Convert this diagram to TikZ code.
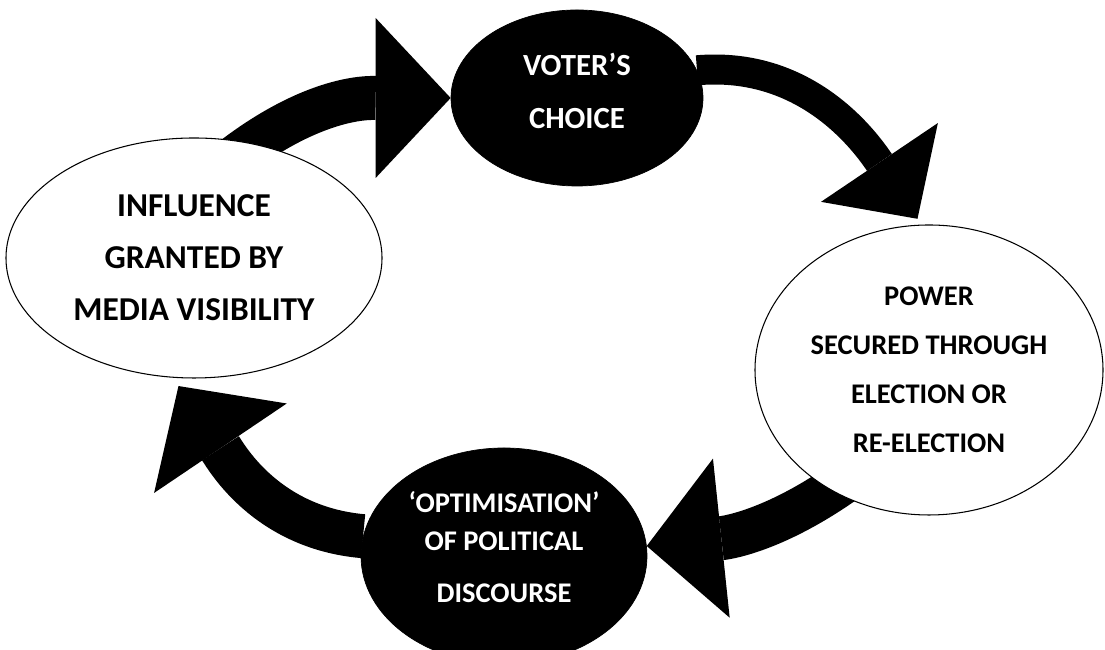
\documentclass[tikz,border=0pt]{standalone}
\usepackage{fontspec}
\setmainfont{Carlito}
\usepackage{tikz}
\usetikzlibrary{shapes.geometric, arrows.meta, backgrounds}

\begin{document}
\begin{tikzpicture}[
    blackoval/.style={draw=black, ellipse, fill=black, text=white, align=center, inner sep=0pt},
    whiteoval/.style={draw=black, ellipse, fill=white, line width=0.6pt, align=center, inner sep=0pt},
    widearrow/.style={line width=0.88cm, -{Triangle[length=1.5cm, width=3.2cm, line width=0pt]}},
    thinarrow/.style={line width=0.6cm, -{Triangle[length=1.36cm, width=2.82cm, line width=0pt]}}
]

    \useasboundingbox (0,0) rectangle (22.1,13);

    % Nodes
    \node[blackoval, minimum width=5.04cm, minimum height=3.52cm, text depth=8.5pt, font=\bfseries\fontsize{17.5}{30}\selectfont] (voter) at (11.54,11.04) {VOTER’S\\CHOICE};
    \node[whiteoval, minimum width=7.52cm, minimum height=4.8cm, font=\bfseries\fontsize{19}{29.5}\selectfont] (infl) at (3.88,7.84) {INFLUENCE\\GRANTED BY\\MEDIA VISIBILITY};
    \node[whiteoval, minimum width=6.96cm, minimum height=5.8cm, font=\bfseries\fontsize{16.2}{27.8}\selectfont] (power) at (18.58,5.6) {POWER\\SECURED THROUGH\\ELECTION OR\\RE-ELECTION};
    \node[blackoval, minimum width=5.72cm, minimum height=4.32cm, text depth=10pt, font=\bfseries\fontsize{16.2}{21.5}\selectfont] (optim) at (10.08,1.88) {‘OPTIMISATION’\\OF POLITICAL\\[8pt]DISCOURSE};

    % Cycle
    \begin{scope}[on background layer]
        \draw[widearrow, shorten <=-0.6cm] (infl.63) to[out=38, in=180] (voter.west);
        \draw[thinarrow, shorten >=0.14cm] (voter.13) to[out=5, in=124] (power.93);
        \draw[widearrow, shorten <=-0.3cm] (power.231) to[out=215, in=6] (optim.4);
        \draw[widearrow, shorten >=0.2cm] (optim.172) to[out=175, in=304] (infl.260);
    \end{scope}

\end{tikzpicture}
\end{document}
